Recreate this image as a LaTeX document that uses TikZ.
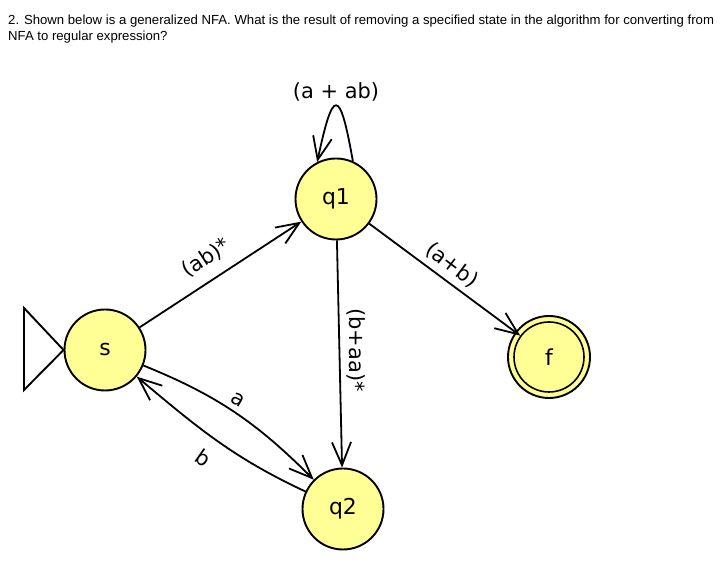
\documentclass[tikz,border=0pt]{standalone}
\usepackage{fontspec}
\setmainfont{DejaVu Sans}
\newfontfamily\hdrfont{Liberation Sans}
\usetikzlibrary{arrows.meta}
\definecolor{stfill}{RGB}{255,255,150}
\begin{document}
\begin{tikzpicture}[x=1bp,y=1bp,
  state/.style={circle, draw=black, line width=1.9bp, fill=stfill, minimum size=81bp, inner sep=0pt, font=\fontsize{22}{26}\selectfont},
  arr/.style={line width=1.8bp, -{Straight Barb[length=23bp,width=19bp,line width=1.8bp]}},
  lbl/.style={font=\fontsize{21}{25}\selectfont, inner sep=0pt},
  hdr/.style={font=\hdrfont\fontsize{13.2}{15}\selectfont, anchor=base west, inner sep=0pt}]
\useasboundingbox (0,0) rectangle (720,566);
\fill[white] (0,0) rectangle (720,566);
% header
\node[hdr] (h1) at (8,541) {2. Shown below is a generalized NFA. What is the result of removing a specified state in the algorithm for converting from};
\node[hdr] (h2) at (8,525) {NFA to regular expression?};
% states
\node[state] (s) at (105,216) {s};
\node[state] (q1) at (336,367) {q1};
\node[state] (q2) at (343,57) {q2};
\node[state, minimum size=82bp] (f) at (549,209) {};
\node[state, minimum size=70bp, line width=1.6bp] (fi) at (549,209) {f};
% start marker
\coordinate (t1) at (24,258);
\coordinate (t2) at (24,176);
\draw[line width=1.9bp, line join=miter] (t1) -- (s.west) -- (t2) -- cycle;
% edges
\draw[arr] (s) -- (q1);
\draw[arr] (q1) -- (fi);
\draw[arr] (q1) -- (q2);
\draw[arr] (s) to[out=-22, in=135] (q2);
\draw[arr] (q2) to[out=155, in=-40] (s);
\draw[arr] (q1.66) .. controls +(100:76) and +(78:76) .. (q1.117);
% labels
\node[lbl] (l1) at (336,474) {(a + ab)};
\node[lbl, rotate=33] (l2) at (206,308) {(ab)*};
\node[lbl, rotate=-37] (l3) at (452,301) {(a+b)};
\node[lbl, rotate=-90] (l4) at (356,216) {(b+aa)*};
\node[lbl, rotate=-30] (l5) at (238,166) {a};
\node[lbl, rotate=-35] (l6) at (203,108) {b};
\end{tikzpicture}
\end{document}
